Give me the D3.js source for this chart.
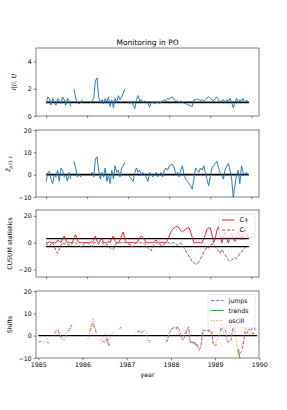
<!DOCTYPE html>
<html>
<head>
<meta charset="utf-8">
<script src="https://cdn.jsdelivr.net/npm/d3@7"></script>
<style>
  body { margin: 0; background: #fff; }
  text { font-family: "DejaVu Sans", sans-serif; fill: #000; }
</style>
</head>
<body>
<svg id="chart" width="287" height="410"></svg>
<script>
// weekly index, one value every second week (idx = i * 2), null = gap
const idxStep = 2;
const eta = [
  0.9, 1.4, 1.3, 0.8, 1.3, 1.0, 0.8, 1.3, 1.1, 0.9, 1.4, 1.2, 0.8, 1.3, 1.1, 0.7,
  null,
  2.0, 1.3, 1.0, 0.9, 1.0, 1.2,
  null, null, null, null,
  1.0, 1.1, 1.3, 2.6, 2.8, 1.4, 1.0, 1.2, 0.9, 1.3, 1.0, 1.4, 0.7, 1.2, 0.6, 1.3, 1.0, 1.5, 1.2, 1.4, 1.7, 2.0,
  null,
  1.0, 0.9, 1.1, 0.8, 0.55, 1.2, 1.5, 1.1, 1.2, 1.0,
  1.1, 1.0, 0.9, 0.65, 1.0, 1.0, 0.9, 1.0, 1.0, 0.95,
  1.0, 1.1, 1.2, 1.1, 1.3, 1.25, 1.35, 1.4, 1.2, 1.1,
  1.1, 1.0, 1.1, 1.0, 0.95, 0.9, 0.85, 0.8, 0.75, 0.7,
  1.2, 1.2, 1.25, 1.2, 1.15, 1.2, 1.1, 1.2, 1.3, 1.4,
  1.3, 1.2, 1.1, 1.3, 1.4, 1.2, 1.0, 1.1, 1.2, 1.0,
  1.2, 1.1, 1.3, 1.0, 0.6, 1.0, 1.3, 1.0, 1.2, 1.1,
  1.3, 1.0, 1.15, 1.1
];
const zhat = [
  -3, 1, 1.5, -2, -4, 0, -1, 2, -3, 3, 2, -1, 0, -3, 1, -2,
  null,
  6, 3, -1, 0, -1, 0,
  null, null, null, null,
  0, 1, -1, 7, 8, 2, -2, 1, -1, 3, -3, 0, -4, 2, -2, 4, 1, 2, -1, 3, 4, 5.5,
  null,
  0, -1, -2, -3, 1, 3, 1, 2, 0, 1,
  0, -1, -3, 1, 0, -1, 0, 1, -1, 0,
  1, -1, 2, 3, 2, 4, 4.5, 4.5, 3, 0,
  1, -1, 2, 4, 0, -2, -3, -4, -5, -6.5,
  -2, 3, 2, 1, 3, 2, 4, 1, -2, -5,
  -1, 3, 4, 5, 6, 3, 1, 0, -2, 2,
  4, 5, 2, -2, -10, -5, 0, 2, -4, 4,
  1, 0, 1, 0
];
const cPlus = [
  0, 0, 1, 0, 0, 0, 0, 2, 1, 0,
  3, 5, 2, 0, 0, 0, 0, 4, 6, 2,
  0, 0, 0, 0, 0, 0, 0, 0, 0, 2,
  5, 1, 0, 2, 3, 0, 0, 0, 1, 0,
  3, 5, 1, 0, 0, 2, 5, 8, 2, 0,
  0, 0, 0, 0, 0, 0, 1, 4, 5, 4,
  2, 0, 0, 0, 0, 0, 1, 2, 0, 0,
  0, 0, 0, 0, 2, 5, 8, 10, 11, 12,
  12, 11, 9, 8, 9, 10, 11, 11, 8, 4,
  0, 0, 0, 0, 0, 0, 3, 6, 10, 11,
  11, 6, 0, 3, 9, 12, 6, 0, 4, 8,
  3, 0, 4, 7, 3, 1, 6, 9, 5, 2,
  6, 10, 7, 4
];
const cMinus = [
  0, -2, -3, -1, 0, -3, -6, -8, -5, -2,
  0, -1, 0, -1, -2, -2, 0, 0, 0, -1,
  -2, -3, -3, -1, 0, 0, -1, -2, -3, 0,
  0, 0, -1, 0, 0, -1, -2, -1, -3, -4,
  -5, -5, -2, 0, 0, 0, 0, 0, 0, 0,
  -1, -1, -3, -3, -1, 0, 0, 0, 0, -1,
  0, -2, -4, -5, -6, -3, 0, 0, -1, -1,
  -2, -2, -1, 0, 0, 0, -1, 0, 0, -1,
  -2, -1, 0, -2, -4, -6, -8, -10, -12, -14,
  -15, -16, -16, -14, -12, -10, -7, -5, -3, -4,
  -2, -1, -1, -3, -5, -6, -8, -5, -7, -9,
  -11, -13, -14, -13, -12, -11, -12, -10, -8, -7,
  -5, -4, -3, -2
];
const hLimit = 3;

// shifts, one value every 0.04 year from 1985.0
const shiftStart = 1985;
const shiftStep = 0.04;
const jumps = [
  -3, -2.5, -3, -2.8, null, -3, -3.2, null, null, 1,
  2, 2.5, 1, -1, -2, null, null, 2, 3, 5,
  null, null, null, null, null, null, null, null, null, 2,
  4, 5.5, 3, 1, null, null, -3, -2.5, -3, -1,
  -4.5, -3, null, null, null, null, null, null, null, null,
  null, null, null, null, -2, null, 1.5, 2, 1, 2,
  1.5, null, -2, -2.5, null, null, null, null, null, null,
  null, null, -2, -2.5, 1, 2, 3.5, 3.5, 3, 4,
  2, -1, -2, 0, 2, 4, -3, -3, -3, -3.5,
  -4, -6, -5, 2.5, 2.5, 2, 2.5, 2.5, 2, -4,
  -4.5, -4, null, 2, 5.5, 4, 2, -2, -3, -2,
  3, 3.5, 4, null, -8, -7, -4, 2, 1, 3,
  2, 3.5, 4, 2, null
];
const trends = [
  null, null, null, null, null, null, null, null, null, null,
  null, null, null, null, null, null, null, null, null, null,
  null, null, null, null, null, null, null, null, null, null,
  null, null, null, null, null, null, null, null, null, -3,
  -4, null, null, null, null, null, 3, 4, null, null,
  null, null, null, null, null, null, null, null, null, null,
  null, null, null, null, null, null, null, null, null, null,
  null, null, null, null, null, null, null, null, 3.5, 4,
  null, null, null, 1, 1, null, -3, -3, -3.5, -4,
  -4.5, null, null, null, null, null, 2, 2, null, null,
  null, null, null, 3, 3.5, null, null, null, null, null,
  null, null, null, -6, -10, null, null, null, null, null,
  null, 1, 1, null, null
];
const oscill = [
  null, null, null, null, null, -1.5, -1, null, null, 0,
  2, 2.5, 2, -1, -2, -2, 1, 3, 4, 3,
  null, null, null, null, null, null, null, null, -1.5, 1,
  5, 8, 4, 2, null, -2, -2, 0, 1, -1,
  -2, 0, 1, 2, null, null, null, null, null, null,
  null, null, null, null, null, 1, 2, 2.5, 2, 1,
  2.5, 2, -2, -3, -2, null, null, null, null, null,
  null, null, -3, -2, 1, 3, 3.5, 4, 3.5, 2,
  0, -1, 0, 2, 3, 1, -3, -2, null, -3,
  -5, -7, -4, 0, 2.5, 2, 2.5, 2.5, 1, -3,
  -4, -2, 0, 2, 3.5, 1, -1, -3, -3, -2,
  4, 2, -2, -9, -6, -5, -2, 3, 3, 1,
  0, 2, 1, 0.5, null
];
const idxTicks = [0, 50, 100, 150, 200, 250];
const yearTicks = [1985, 1986, 1987, 1988, 1989, 1990];

const svg = d3.select('#chart');
const left = 36, right = 259;
const fs = 6.25;
const minus = s => String(s).replace('-', '\u2212');

// index scale for the three upper panels (5% margin like matplotlib)
const xIdx = d3.scaleLinear().domain([-12.35, 259.35]).range([left, right]);
const xYear = d3.scaleLinear().domain([1985, 1990]).range([38.3, 259.3]);

function makePanel(top, bottom, domain, ticks, xScale, xTicks, showXLabels) {
  const y = d3.scaleLinear().domain(domain).range([bottom, top]);
  const g = svg.append('g');
  const clipId = 'clip' + top;
  svg.append('clipPath').attr('id', clipId)
    .append('rect').attr('x', left).attr('y', top).attr('width', right - left).attr('height', bottom - top);
  const plot = g.append('g').attr('clip-path', `url(#${clipId})`);

  const yAxis = g.append('g').attr('transform', `translate(${left},0)`)
    .call(d3.axisLeft(y).tickValues(ticks).tickSize(2.2).tickPadding(2.2).tickFormat(minus));
  const xAxis = g.append('g').attr('transform', `translate(0,${bottom})`)
    .call(d3.axisBottom(xScale).tickValues(xTicks).tickSize(2.2).tickPadding(2.2)
      .tickFormat(showXLabels ? d3.format('d') : () => ''));
  [yAxis, xAxis].forEach(a => {
    a.select('.domain').remove();
    a.selectAll('line').attr('stroke', '#000').attr('stroke-width', 0.5);
    a.selectAll('text').attr('font-size', fs).attr('font-family', '"DejaVu Sans", sans-serif');
  });
  g.append('rect').attr('x', left).attr('y', top).attr('width', right - left).attr('height', bottom - top)
    .attr('fill', 'none').attr('stroke', '#000').attr('stroke-width', 0.5);
  return { y, plot, g };
}

function drawLine(plot, xs, ys, y, color, width, dash) {
  const line = d3.line()
    .defined(d => d[1] != null)
    .x(d => d[0]).y(d => y(d[1]));
  plot.append('path')
    .datum(ys.map((v, i) => [xs(i), v]))
    .attr('d', line)
    .attr('fill', 'none')
    .attr('stroke', color)
    .attr('stroke-width', width)
    .attr('stroke-dasharray', dash || null);
}

function hRule(plot, y, x0, x1, v, width) {
  plot.append('line')
    .attr('x1', x0).attr('x2', x1).attr('y1', y(v)).attr('y2', y(v))
    .attr('stroke', '#000').attr('stroke-width', width);
}

function yLabel(x, yMid, parts) {
  const t = svg.append('text')
    .attr('transform', `translate(${x},${yMid}) rotate(-90)`)
    .attr('text-anchor', 'middle')
    .attr('font-size', fs);
  parts.forEach(p => {
    t.append('tspan').text(p.text)
      .attr('font-size', p.sub ? fs * 0.72 : fs)
      .attr('dy', p.dy || 0)
      .attr('font-style', p.italic ? 'italic' : null);
  });
}

const idxX = i => xIdx(i * idxStep);
const lastIdx = xIdx(247);
const blue = '#1f77b4';

// panel 1
const p1 = makePanel(48, 116, [0, 5], [0, 2, 4], xIdx, idxTicks, false);
hRule(p1.plot, p1.y, xIdx(0), lastIdx, 1, 1.6);
drawLine(p1.plot, idxX, eta, p1.y, blue, 0.95);
svg.append('text').attr('x', 147.5).attr('y', 45).attr('text-anchor', 'middle')
  .attr('font-size', 7.5).text('Monitoring in PO');
yLabel(16, 82, [{ text: 'η̃(i, t)', italic: true }]);

// panel 2
const p2 = makePanel(130, 197, [-10, 20], [-10, 0, 10, 20], xIdx, idxTicks, false);
hRule(p2.plot, p2.y, xIdx(0), lastIdx, 0, 1.6);
drawLine(p2.plot, idxX, zhat, p2.y, blue, 0.95);
yLabel(10, 164, [{ text: 'ẑ', italic: true }, { text: 'μ(i), t', sub: true, dy: 1.5, italic: true }]);

// panel 3
const p3 = makePanel(210, 277, [-25.6, 24.4], [-20, 0, 20], xIdx, idxTicks, false);
hRule(p3.plot, p3.y, xIdx(0), lastIdx, hLimit, 1.3);
hRule(p3.plot, p3.y, xIdx(0), lastIdx, -hLimit, 1.3);
drawLine(p3.plot, idxX, cPlus, p3.y, '#e31a1c', 0.95);
drawLine(p3.plot, idxX, cMinus, p3.y, '#8c564b', 0.95, '3.5,1.5');
yLabel(12, 243.5, [{ text: 'CUSUM statistics' }]);

// panel 4
const p4 = makePanel(291, 358, [-10, 20], [-10, 0, 10, 20], xYear, yearTicks, true);
const shiftX = i => xYear(shiftStart + i * shiftStep);
hRule(p4.plot, p4.y, xYear(1985), xYear(1989.95), 0, 1.3);
drawLine(p4.plot, shiftX, jumps, p4.y, '#9467bd', 0.95, '3.5,1.5');
drawLine(p4.plot, shiftX, trends, p4.y, '#2ca02c', 0.95);
drawLine(p4.plot, shiftX, oscill, p4.y, '#ff7f0e', 0.95, '0.95,1.55');
yLabel(12, 324.5, [{ text: 'Shifts' }]);
svg.append('text').attr('x', 147.5).attr('y', 377).attr('text-anchor', 'middle')
  .attr('font-size', fs).text('year');

function legend(x, y, w, items) {
  const h = items.length * 10 + 3.5;
  svg.append('rect').attr('x', x).attr('y', y).attr('width', w).attr('height', h)
    .attr('rx', 1.5).attr('fill', '#fff').attr('fill-opacity', 0.8)
    .attr('stroke', '#ccc').attr('stroke-width', 0.5);
  items.forEach((it, i) => {
    const cy = y + 6 + i * 10;
    svg.append('line').attr('x1', x + 3).attr('x2', x + 15.5).attr('y1', cy).attr('y2', cy)
      .attr('stroke', it.color).attr('stroke-width', 0.95).attr('stroke-dasharray', it.dash || null);
    svg.append('text').attr('x', x + 20.5).attr('y', cy + 2.2).attr('font-size', fs).text(it.label);
  });
}
legend(219, 214, 36, [
  { label: 'C+', color: '#e31a1c' },
  { label: 'C-', color: '#8c564b', dash: '3.5,1.5' }
]);
legend(208, 294.5, 47, [
  { label: 'jumps', color: '#9467bd', dash: '3.5,1.5' },
  { label: 'trends', color: '#2ca02c' },
  { label: 'oscill', color: '#ff7f0e', dash: '0.95,1.55' }
]);
</script>
</body>
</html>
